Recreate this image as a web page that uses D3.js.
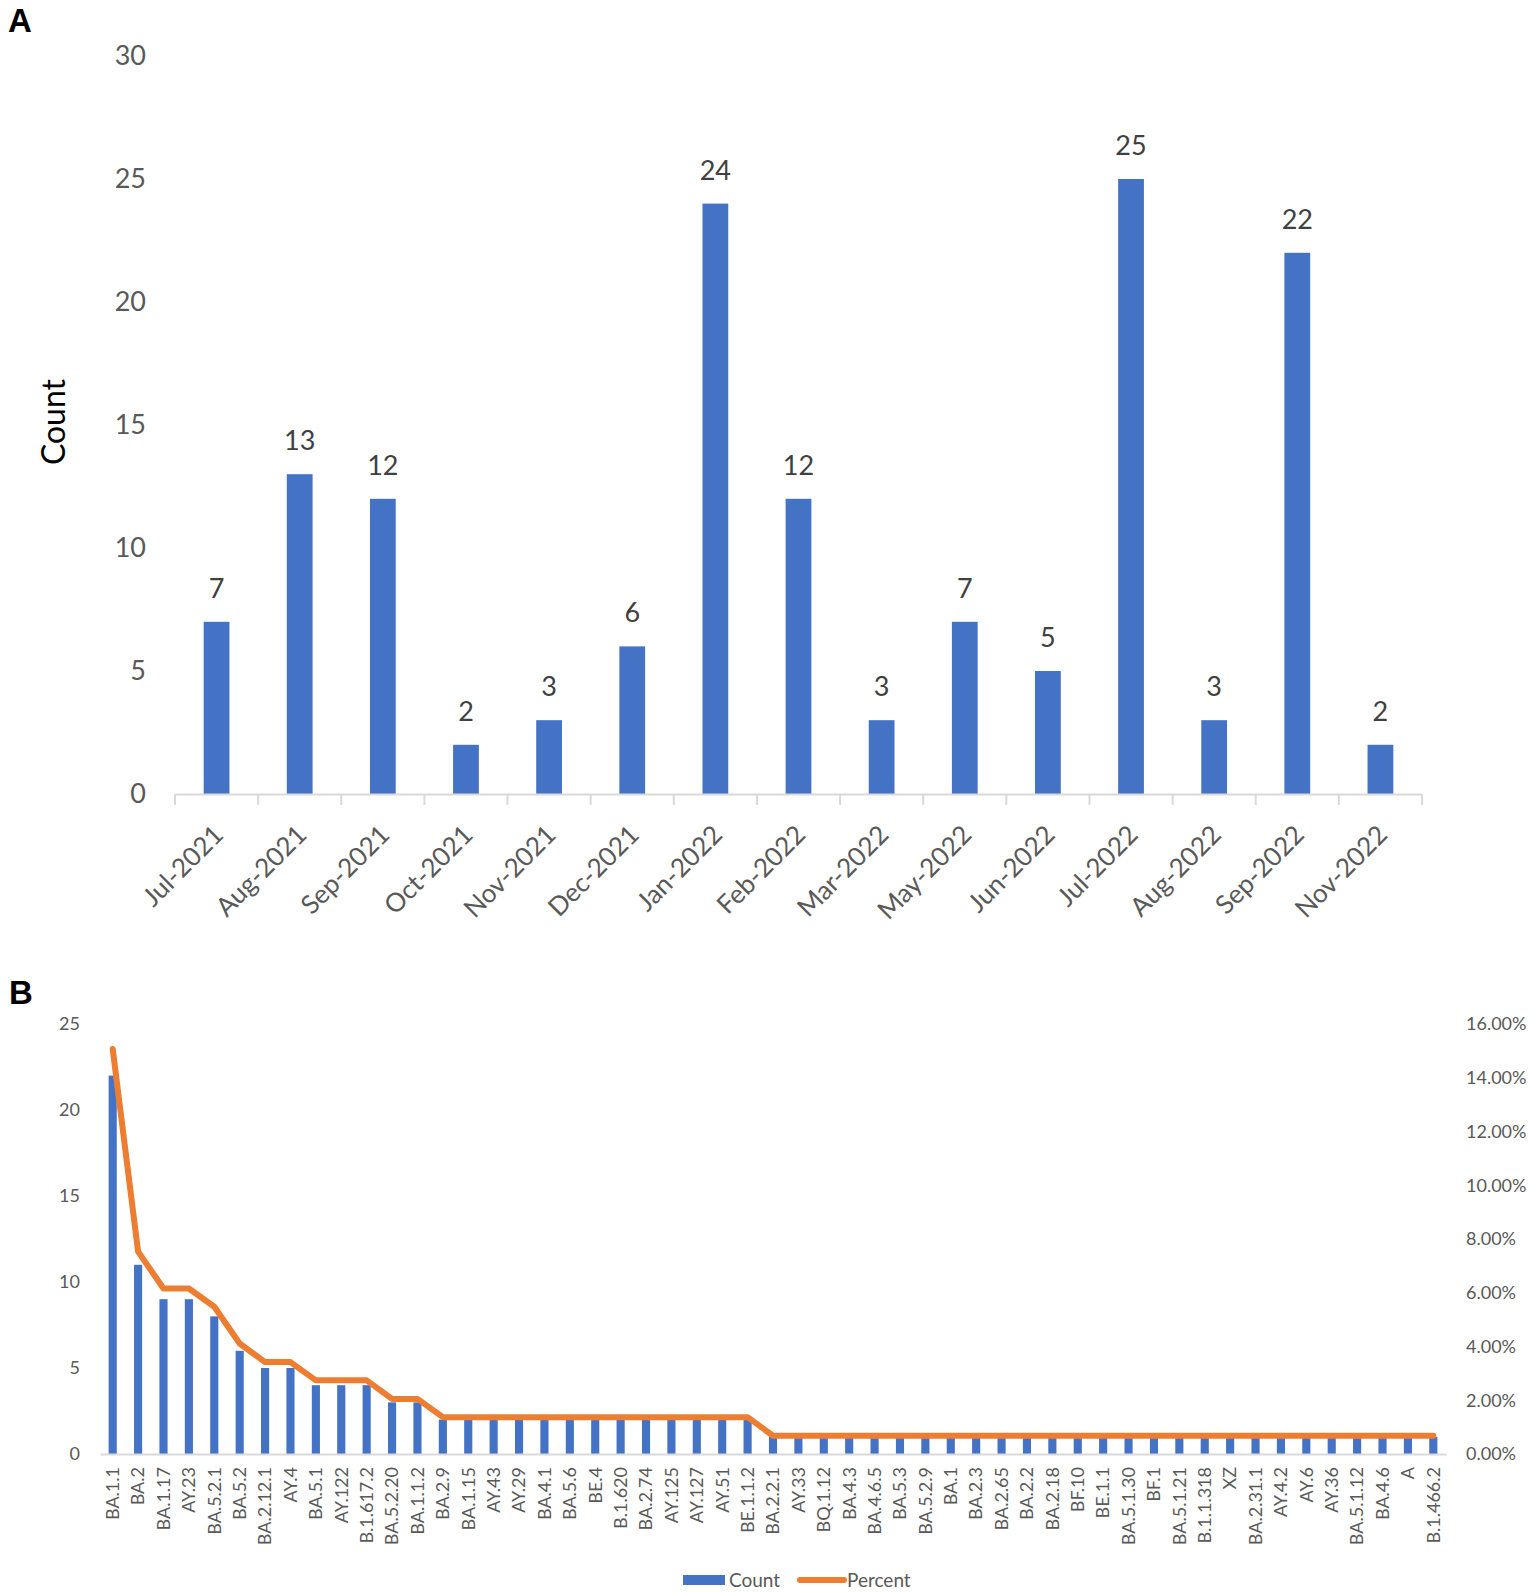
<!DOCTYPE html>
<html>
<head>
<meta charset="utf-8">
<script src="https://cdn.jsdelivr.net/npm/d3@7"></script>
<style>
  html, body { margin: 0; padding: 0; background: #fff; }
  svg { display: block; }
  text { font-family: Lato, "Open Sans", sans-serif; }
</style>
</head>
<body>
<svg id="chart" width="1536" height="1592"></svg>
<script>
// ---------- Panel A data ----------
const monthsA = ["Jul-2021","Aug-2021","Sep-2021","Oct-2021","Nov-2021","Dec-2021","Jan-2022","Feb-2022","Mar-2022","May-2022","Jun-2022","Jul-2022","Aug-2022","Sep-2022","Nov-2022"];
const countsA = [7,13,12,2,3,6,24,12,3,7,5,25,3,22,2];
const yTicksA = [0,5,10,15,20,25,30];

// ---------- Panel B data ----------
const lineagesB = ["BA.1.1","BA.2","BA.1.17","AY.23","BA.5.2.1","BA.5.2","BA.2.12.1","AY.4","BA.5.1","AY.122","B.1.617.2","BA.5.2.20","BA.1.1.2","BA.2.9","BA.1.15","AY.43","AY.29","BA.4.1","BA.5.6","BE.4","B.1.620","BA.2.74","AY.125","AY.127","AY.51","BE.1.1.2","BA.2.2.1","AY.33","BQ.1.12","BA.4.3","BA.4.6.5","BA.5.3","BA.5.2.9","BA.1","BA.2.3","BA.2.65","BA.2.2","BA.2.18","BF.10","BE.1.1","BA.5.1.30","BF.1","BA.5.1.21","B.1.1.318","XZ","BA.2.31.1","AY.4.2","AY.6","AY.36","BA.5.1.12","BA.4.6","A","B.1.466.2"];
const countsB = [22,11,9,9,8,6,5,5,4,4,4,3,3,2,2,2,2,2,2,2,2,2,2,2,2,2,1,1,1,1,1,1,1,1,1,1,1,1,1,1,1,1,1,1,1,1,1,1,1,1,1,1,1];
const percentB = [15.07,7.53,6.16,6.16,5.48,4.11,3.42,3.42,2.74,2.74,2.74,2.05,2.05,1.37,1.37,1.37,1.37,1.37,1.37,1.37,1.37,1.37,1.37,1.37,1.37,1.37,0.68,0.68,0.68,0.68,0.68,0.68,0.68,0.68,0.68,0.68,0.68,0.68,0.68,0.68,0.68,0.68,0.68,0.68,0.68,0.68,0.68,0.68,0.68,0.68,0.68,0.68,0.68];
const yTicksLeftB = [0,5,10,15,20,25];
const yTicksRightB = [0,2,4,6,8,10,12,14,16];
const legendB = ["Count","Percent"];

const BLUE = "#4472C4", ORANGE = "#ED7D31", AXIS = "#D9D9D9", TXT = "#595959", LBL = "#404040";
const svg = d3.select("#chart");

// ================= Panel A =================
svg.append("text").attr("x", 8).attr("y", 32)
  .style("font-family", "'Liberation Sans', Arial, sans-serif").style("font-weight", "bold")
  .style("font-size", "33px").attr("fill", "#000").text("A");

const xA = d3.scaleBand().domain(monthsA).range([175, 1422]).paddingInner(0.69).paddingOuter(0.345);
const xAticks = d3.scaleBand().domain(monthsA).range([175, 1422]);
const yA = d3.scaleLinear().domain([0, 30]).range([794, 56]);

const gA = svg.append("g");
const yAxisA = d3.axisLeft(yA).tickValues(yTicksA).tickSize(0).tickPadding(0);
gA.append("g").attr("transform", "translate(146,0)").call(yAxisA)
  .call(g => g.select(".domain").remove())
  .call(g => g.selectAll("text").attr("fill", TXT).style("font-size", "27px").style("font-family", "Lato, sans-serif"));

gA.selectAll("rect.bar").data(countsA).join("rect")
  .attr("x", (d, i) => xA(monthsA[i]))
  .attr("width", xA.bandwidth())
  .attr("y", d => yA(d))
  .attr("height", d => yA(0) - yA(d))
  .attr("fill", BLUE);

const xAxisA = d3.axisBottom(xAticks).tickSize(0).tickFormat("");
gA.append("g").attr("transform", `translate(0,${yA(0)})`).call(xAxisA)
  .call(g => g.select(".domain").attr("stroke", AXIS).attr("stroke-width", 2))
  .call(g => g.selectAll(".tick").remove());
const bounds = monthsA.map(m => xAticks(m)).concat([xAticks.range()[1]]);
gA.selectAll("line.tk").data(bounds).join("line")
  .attr("x1", d => d).attr("x2", d => d)
  .attr("y1", yA(0)).attr("y2", yA(0) + 11)
  .attr("stroke", AXIS).attr("stroke-width", 2);

gA.selectAll("text.xl").data(monthsA).join("text")
  .attr("transform", d => `translate(${xAticks(d) + xAticks.bandwidth() / 2 + 2},${yA(0) + 36}) rotate(-45)`)
  .attr("text-anchor", "end").attr("dy", "0.35em")
  .attr("fill", TXT).style("font-size", "26px").text(d => d);

gA.selectAll("text.vl").data(countsA).join("text")
  .attr("x", (d, i) => xA(monthsA[i]) + xA.bandwidth() / 2)
  .attr("y", d => yA(d) - 24)
  .attr("text-anchor", "middle").attr("fill", LBL).style("font-size", "27px").text(d => d);

svg.append("text").attr("transform", "translate(65,422) rotate(-90)")
  .attr("text-anchor", "middle").attr("fill", "#000").style("font-size", "32px").text("Count");

// ================= Panel B =================
svg.append("text").attr("x", 9).attr("y", 1004)
  .style("font-family", "'Liberation Sans', Arial, sans-serif").style("font-weight", "bold")
  .style("font-size", "33px").attr("fill", "#000").text("B");

const xB = d3.scaleBand().domain(lineagesB).range([100, 1446]).paddingInner(0.68).paddingOuter(0.34);
const xBc = d3.scaleBand().domain(lineagesB).range([100, 1446]);
const yB = d3.scaleLinear().domain([0, 25]).range([1454, 1024]);
const yBr = d3.scaleLinear().domain([0, 16]).range([1454, 1024]);

const gB = svg.append("g");
gB.append("g").attr("transform", "translate(80,0)")
  .call(d3.axisLeft(yB).tickValues(yTicksLeftB).tickSize(0).tickPadding(0))
  .call(g => g.select(".domain").remove())
  .call(g => g.selectAll("text").attr("fill", TXT).style("font-size", "18px").style("font-family", "Lato, sans-serif"));
gB.append("g").attr("transform", "translate(1466,0)")
  .call(d3.axisRight(yBr).tickValues(yTicksRightB).tickSize(0).tickPadding(0).tickFormat(d => d3.format(".2f")(d) + "%"))
  .call(g => g.select(".domain").remove())
  .call(g => g.selectAll("text").attr("fill", TXT).style("font-size", "18px").style("font-family", "Lato, sans-serif"));

gB.selectAll("rect.bar").data(countsB).join("rect")
  .attr("x", (d, i) => xB(lineagesB[i]))
  .attr("width", xB.bandwidth())
  .attr("y", d => yB(d))
  .attr("height", d => yB(0) - yB(d))
  .attr("fill", BLUE);

gB.append("g").attr("transform", `translate(0,${yB(0)})`)
  .call(d3.axisBottom(xBc).tickSize(0).tickFormat(""))
  .call(g => g.select(".domain").attr("stroke", AXIS).attr("stroke-width", 2))
  .call(g => g.selectAll(".tick").remove());

gB.selectAll("text.xl").data(lineagesB).join("text")
  .attr("transform", d => `translate(${xBc(d) + xBc.bandwidth() / 2},${yB(0) + 13}) rotate(-90)`)
  .attr("text-anchor", "end").attr("dy", "0.35em")
  .attr("fill", TXT).style("font-size", "18px").text(d => d);

const line = d3.line()
  .x((d, i) => xBc(lineagesB[i]) + xBc.bandwidth() / 2)
  .y(d => yBr(d));
gB.append("path").datum(percentB).attr("d", line)
  .attr("fill", "none").attr("stroke", ORANGE).attr("stroke-width", 6)
  .attr("stroke-linejoin", "round").attr("stroke-linecap", "round");

const lg = svg.append("g").attr("transform", "translate(0,1580)");
lg.append("rect").attr("x", 683).attr("y", -5).attr("width", 42).attr("height", 10).attr("fill", BLUE);
lg.append("text").attr("x", 729).attr("y", 0).attr("dy", "0.35em").attr("fill", TXT).style("font-size", "19px").text(legendB[0]);
lg.append("line").attr("x1", 800).attr("x2", 844).attr("y1", 0).attr("y2", 0)
  .attr("stroke", ORANGE).attr("stroke-width", 6).attr("stroke-linecap", "round");
lg.append("text").attr("x", 847).attr("y", 0).attr("dy", "0.35em").attr("fill", TXT).style("font-size", "19px").text(legendB[1]);
</script>
</body>
</html>
